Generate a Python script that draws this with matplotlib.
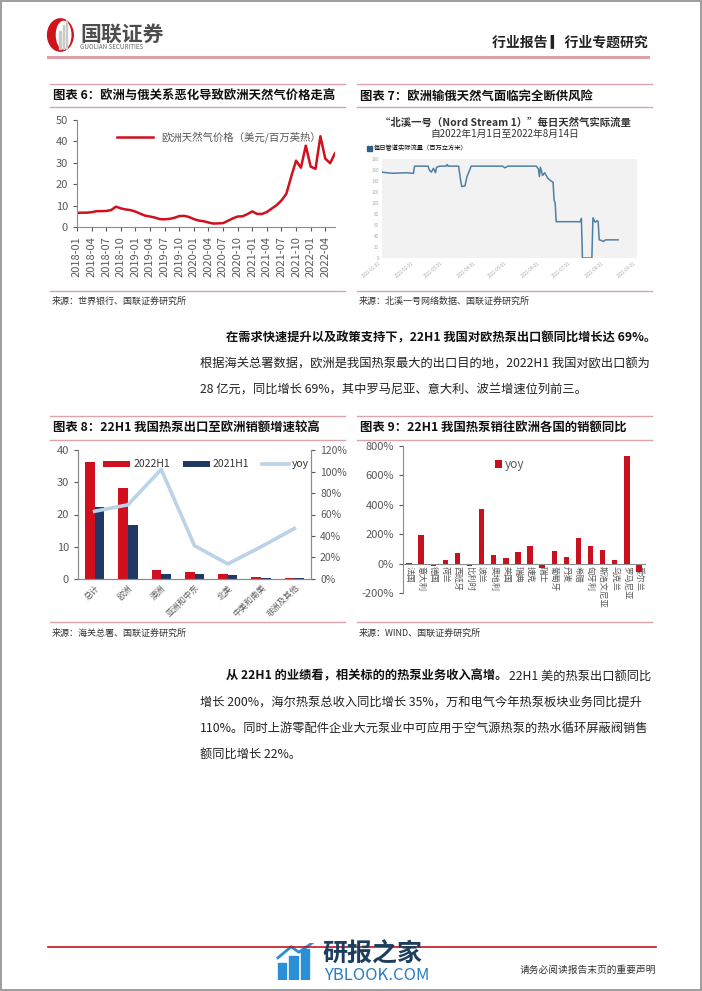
import numpy as np
import pandas as pd
import matplotlib
matplotlib.use("Agg")
import matplotlib.pyplot as plt
from matplotlib.lines import Line2D
from matplotlib.patches import Rectangle, Ellipse, Patch

plt.rcParams['font.family'] = ['Noto Sans CJK SC', 'DejaVu Sans']
plt.rcParams['axes.unicode_minus'] = False

W, H = 702, 991

# ---- chart 6: European gas price (USD/MMBtu), monthly 2018-01 .. 2022-06
gas_price = [6.6, 6.7, 6.7, 6.9, 7.4, 7.4, 7.5, 7.9, 9.5, 8.7, 8.2, 7.9,
             7.2, 6.2, 5.3, 4.9, 4.4, 3.7, 3.6, 3.8, 4.3, 5.1, 5.2, 4.7,
             3.7, 3.0, 2.7, 2.1, 1.6, 1.7, 1.8, 2.9, 4.0, 4.9, 5.0, 6.0,
             7.3, 6.1, 6.1, 7.0, 8.6, 10.2, 12.4, 15.5, 23.5, 31.0, 27.7, 38.0,
             28.2, 27.2, 42.4, 32.0, 29.8, 34.5]
gas_months = pd.date_range('2018-01-01', periods=len(gas_price), freq='MS').strftime('%Y-%m')

# ---- chart 7: Nord Stream 1 daily flow (mcm)
ns_dates = ['2022-01-01', '2022-01-11', '2022-01-24', '2022-01-31', '2022-02-01',
            '2022-02-14', '2022-02-15', '2022-02-17', '2022-02-19', '2022-02-21',
            '2022-02-22', '2022-02-25', '2022-03-03', '2022-03-04', '2022-03-05',
            '2022-03-15', '2022-03-17', '2022-03-18', '2022-03-21', '2022-03-23',
            '2022-03-26', '2022-03-27', '2022-04-26', '2022-04-28', '2022-05-01',
            '2022-05-28', '2022-05-30', '2022-05-31', '2022-06-01', '2022-06-03',
            '2022-06-05', '2022-06-08', '2022-06-11', '2022-06-13', '2022-06-14',
            '2022-06-15', '2022-06-16', '2022-07-09', '2022-07-10', '2022-07-11',
            '2022-07-20', '2022-07-21', '2022-07-23', '2022-07-25', '2022-07-26',
            '2022-07-27', '2022-07-29', '2022-07-31', '2022-08-02', '2022-08-14']
ns_flow = [156, 154, 155, 154, 167,
           167, 160, 156, 163, 155,
           165, 167, 167, 170, 167,
           167, 140, 130, 131, 148,
           162, 167, 167, 164, 167,
           167, 162, 148, 165, 150,
           155, 145, 140, 138, 105,
           100, 66, 66, 72, 0,
           0, 73, 65, 68, 66,
           33, 32, 30, 33, 33]

# ---- chart 8: heat pump exports (100m CNY)
regions = ['总计', '欧洲', '澳洲', '亚洲和中东', '北美', '中美和南美', '非洲及其他']
exp_2022h1 = [36.2, 28.3, 2.9, 2.1, 1.5, 0.6, 0.4]
exp_2021h1 = [22.2, 16.7, 1.4, 1.6, 1.3, 0.4, 0.25]
exp_yoy = [63, 69, 102, 31, 14, 30, 47]

# ---- chart 9: yoy by country (%)
countries = ['法国', '意大利', '德国', '荷兰', '西班牙', '比利时', '波兰', '奥地利', '英国', '瑞典',
             '捷克', '瑞士', '葡萄牙', '丹麦', '希腊', '匈牙利', '斯洛文尼亚', '乌克兰', '罗马尼亚', '爱尔兰']
country_yoy = [3, 195, -15, 25, 70, -18, 370, 57, 38, 80,
               118, -30, 88, 43, 172, 117, 92, 25, 735, -55]

fig = plt.figure(figsize=(W / 100, H / 100), dpi=100)

GRAY = '#595959'
PINK = '#dba4ac'
NAVY = '#1f3864'


def px_axes(l, t, r, b):
    return fig.add_axes([l / W, 1 - b / H, (r - l) / W, (b - t) / H])


def ftext(x, y, s, **kw):
    return fig.text(x / W, 1 - y / H, s, **kw)


def hline(x0, x1, y, color=PINK, lw=1.0):
    fig.add_artist(Line2D([x0 / W, x1 / W], [1 - y / H, 1 - y / H], color=color, lw=lw))


# page frame
fig.add_artist(Rectangle((0.001, 0.001), 0.998, 0.998, transform=fig.transFigure,
                         fill=False, edgecolor='#8c8c8c', lw=1.2))

# ---- header
logo = px_axes(46, 18, 78, 52)
logo.set_xlim(0, 1)
logo.set_ylim(0, 1)
logo.axis('off')
logo.add_patch(Ellipse((0.45, 0.5), 0.8, 0.95, color='#d0121b'))
logo.add_patch(Ellipse((0.55, 0.5), 0.45, 0.8, color='white'))
for bx, bh in [(0.42, 0.55), (0.52, 0.7), (0.62, 0.85)]:
    logo.add_patch(Rectangle((bx, 0.08), 0.05, bh, color='#c9c9c9'))
ftext(80, 34, '国联证券', fontsize=15, color='#4d4d4d', fontweight='bold', va='center')
ftext(80, 47, 'GUOLIAN SECURITIES', fontsize=4.5, color='#666666', va='center')
ftext(648, 42, '行业报告 ▎行业专题研究', fontsize=10, color='#222222', fontweight='bold',
      ha='right', va='center')
hline(48, 648, 57, color='#d9a0a8', lw=2.2)

# ---- chart titles / source lines
TITLE = 8.9
for (x0, x1), title, src in [
        ((50, 345), '图表 6：欧洲与俄关系恶化导致欧洲天然气价格走高', '来源：世界银行、国联证券研究所'),
        ((357, 652), '图表 7：欧洲输俄天然气面临完全断供风险', '来源：北溪一号网络数据、国联证券研究所')]:
    hline(x0, x1, 84)
    hline(x0, x1, 107)
    ftext(x0 + 3, 96, title, fontsize=TITLE, fontweight='bold', color='#111111', va='center')
    hline(x0, x1, 291)
    ftext(x0 + 2, 301, src, fontsize=6.5, color='#333333', va='center')

for (x0, x1), title, src in [
        ((50, 345), '图表 8：22H1 我国热泵出口至欧洲销额增速较高', '来源：海关总署、国联证券研究所'),
        ((357, 652), '图表 9：22H1 我国热泵销往欧洲各国的销额同比', '来源：WIND、国联证券研究所')]:
    hline(x0, x1, 416)
    hline(x0, x1, 440)
    ftext(x0 + 3, 428, title, fontsize=TITLE, fontweight='bold', color='#111111', va='center')
    hline(x0, x1, 622)
    ftext(x0 + 2, 633, src, fontsize=6.5, color='#333333', va='center')

# ---- chart 6
ax6 = px_axes(77, 120, 335, 227)
x6 = np.arange(len(gas_price))
ax6.plot(x6, gas_price, color='#d0101e', lw=1.8, label='欧洲天然气价格（美元/百万英热）')
ax6.set_xlim(0, len(gas_price) - 1)
ax6.set_ylim(0, 50)
ax6.set_yticks(range(0, 51, 10))
ax6.set_xticks(x6[::3])
ax6.set_xticklabels(gas_months[::3], rotation=90)
for s in ['top', 'right']:
    ax6.spines[s].set_visible(False)
for s in ['left', 'bottom']:
    ax6.spines[s].set_color('#8c8c8c')
ax6.tick_params(labelsize=8, colors=GRAY, length=3)
leg6 = ax6.legend(loc='upper center', bbox_to_anchor=(0.55, 0.98), frameon=False, fontsize=7.5,
                  handlelength=3.5)
for t in leg6.get_texts():
    t.set_color(GRAY)

# ---- chart 7
ftext(505, 123, '“北溪一号（Nord Stream 1）”每日天然气实际流量', fontsize=7.5, fontweight='bold',
      color='#333333', ha='center', va='center')
ftext(505, 134, '自2022年1月1日至2022年8月14日', fontsize=7, color='#333333', ha='center', va='center')
ax7 = px_axes(382, 159, 637, 258)
ax7.set_facecolor('#f2f2f2')
ns_x = pd.to_datetime(ns_dates)
ax7.plot(ns_x, ns_flow, color='#4f7fa3', lw=1.1)
ax7.set_ylim(0, 180)
ax7.set_yticks(range(0, 181, 20))
month_ticks = pd.date_range('2022-01-01', '2022-09-01', freq='MS')
ax7.set_xlim(month_ticks[0], month_ticks[-1])
ax7.set_xticks(month_ticks)
ax7.set_xticklabels(month_ticks.strftime('%Y-%m-%d'), rotation=40, ha='right')
for s in ax7.spines.values():
    s.set_visible(False)
ax7.tick_params(labelsize=3.2, colors='#aaaaaa', length=0, pad=2)
ax7.legend(handles=[Patch(color='#2f5f8a')], labels=['每日管道实际流量（百万立方米）'],
           loc='lower left', bbox_to_anchor=(-0.07, 1.04), frameon=False, fontsize=4.5,
           handlelength=0.8, handleheight=0.8, handletextpad=0.3, borderaxespad=0)

# ---- chart 8
ax8 = px_axes(78, 450, 311, 579)
x8 = np.arange(len(regions))
bw = 0.29
ax8.bar(x8 - bw / 2, exp_2022h1, width=bw, color='#d0101e', label='2022H1', zorder=2)
ax8.bar(x8 + bw / 2, exp_2021h1, width=bw, color=NAVY, label='2021H1', zorder=2)
ax8.set_ylim(0, 40)
ax8.set_yticks(range(0, 41, 10))
ax8.set_xlim(-0.5, len(regions) - 0.5)
ax8.set_xticks(x8)
ax8.set_xticklabels(regions, rotation=45, ha='right', rotation_mode='anchor')
ax8b = ax8.twinx()
ax8b.plot(x8, exp_yoy, color='#bcd2e8', lw=2.6, label='yoy', zorder=3)
ax8b.set_ylim(0, 120)
ax8b.set_yticks(range(0, 121, 20))
ax8b.set_yticklabels([f'{v}%' for v in range(0, 121, 20)])
for a in (ax8, ax8b):
    a.spines['top'].set_visible(False)
    for s in ['left', 'right', 'bottom']:
        a.spines[s].set_color('#8c8c8c')
ax8.tick_params(axis='y', labelsize=8, colors=GRAY, length=3)
ax8.tick_params(axis='x', labelsize=6, colors=GRAY, length=0, pad=3)
ax8b.tick_params(axis='y', labelsize=7.5, colors=GRAY, length=3)
h1, l1 = ax8.get_legend_handles_labels()
h2, l2 = ax8b.get_legend_handles_labels()
leg8 = ax8b.legend(h1 + h2, l1 + l2, loc='upper center', bbox_to_anchor=(0.55, 1.0), ncol=3,
                   frameon=False, fontsize=7.5, handlelength=2.6, handleheight=0.5,
                   columnspacing=1.2, handletextpad=0.3)
for t in leg8.get_texts():
    t.set_color('#333333')

# ---- chart 9
ax9 = px_axes(403, 446, 645, 593)
ax9.spines['bottom'].set_position(('data', 0))
x9 = np.arange(len(countries))
ax9.bar(x9, country_yoy, width=0.45, color='#c8101e', label='yoy', zorder=2)
ax9.set_ylim(-200, 800)
ax9.set_yticks(range(-200, 801, 200))
ax9.set_yticklabels([f'{v}%' for v in range(-200, 801, 200)])
ax9.set_xlim(-0.5, len(countries) - 0.5)
ax9.set_xticks(x9)
ax9.set_xticklabels(countries)
for s in ['top', 'right']:
    ax9.spines[s].set_visible(False)
for s in ['left', 'bottom']:
    ax9.spines[s].set_color('#8c8c8c')
ax9.tick_params(axis='y', labelsize=8, colors=GRAY, length=3)
ax9.tick_params(axis='x', labelsize=6, colors=GRAY, length=0, pad=2, labelrotation=-90)
for lab in ax9.get_xticklabels():
    lab.set_ha('center')
    lab.set_va('top')
leg9 = ax9.legend(loc='upper center', bbox_to_anchor=(0.44, 0.99), frameon=False, fontsize=8.5,
                  handlelength=0.6, handleheight=0.6, handletextpad=0.2)
for t in leg9.get_texts():
    t.set_color(GRAY)

# ---- body text
BODY = 8.8
ftext(226, 338, '在需求快速提升以及政策支持下，22H1 我国对欧热泵出口额同比增长达 69%。',
      fontsize=BODY, fontweight='bold', color='#111111', va='center')
ftext(200, 364, '根据海关总署数据，欧洲是我国热泵最大的出口目的地，2022H1 我国对欧出口额为',
      fontsize=BODY, color='#222222', va='center')
ftext(200, 390, '28 亿元，同比增长 69%，其中罗马尼亚、意大利、波兰增速位列前三。',
      fontsize=BODY, color='#222222', va='center')

renderer = fig.canvas.get_renderer()
tb = ftext(226, 676, '从 22H1 的业绩看，相关标的的热泵业务收入高增。', fontsize=BODY,
           fontweight='bold', color='#111111', va='center')
bb = tb.get_window_extent(renderer=renderer)
ftext(bb.x1 + 2, 676, '22H1 美的热泵出口额同比', fontsize=BODY, color='#222222', va='center')
ftext(200, 702, '增长 200%，海尔热泵总收入同比增长 35%，万和电气今年热泵板块业务同比提升',
      fontsize=BODY, color='#222222', va='center')
ftext(200, 728, '110%。同时上游零配件企业大元泵业中可应用于空气源热泵的热水循环屏蔽阀销售',
      fontsize=BODY, color='#222222', va='center')
ftext(200, 754, '额同比增长 22%。', fontsize=BODY, color='#222222', va='center')

# ---- footer
hline(48, 656, 947, color='#c8101e', lw=1.2)
ftext(656, 970, '请务必阅读报告末页的重要声明', fontsize=7, color='#333333', ha='right', va='center')
wm = px_axes(276, 943, 314, 980)
wm.set_xlim(0, 1)
wm.set_ylim(0, 1)
wm.axis('off')
for bx, bh in [(0.05, 0.45), (0.35, 0.65), (0.65, 0.85)]:
    wm.add_patch(Rectangle((bx, 0), 0.22, bh, color='#2a8fd6'))
wm.plot([0.05, 0.4, 0.6, 0.95], [0.6, 0.9, 0.75, 1.0], color='#2a8fd6', lw=2)
ftext(322, 954, '研报之家', fontsize=18, color='#1c3d5e', va='center', fontweight='bold')
ftext(324, 976, 'YBLOOK.COM', fontsize=12, color='#2a7fc4', va='center')

fig.savefig('out.png', dpi=100)
